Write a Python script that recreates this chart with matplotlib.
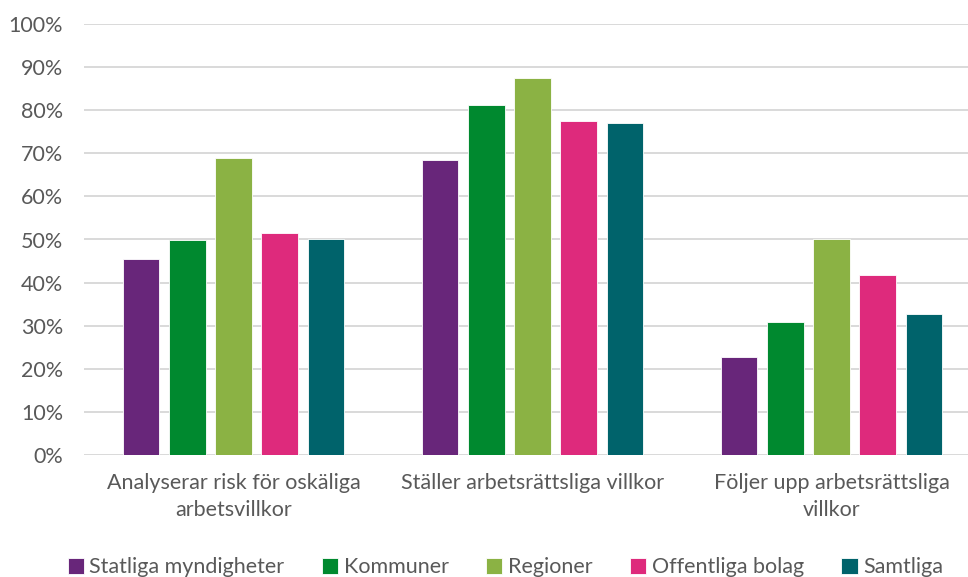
import numpy as np
import matplotlib.pyplot as plt
from matplotlib.ticker import PercentFormatter

plt.rcParams['font.family'] = ['Lato', 'DejaVu Sans']

# kategorier och serier
categories = ["Analyserar risk för oskäliga\narbetsvillkor",
              "Ställer arbetsrättsliga villkor",
              "Följer upp arbetsrättsliga\nvillkor"]
series = ["Statliga myndigheter", "Kommuner", "Regioner", "Offentliga bolag", "Samtliga"]
statliga = [45.4, 68.4, 22.7]
kommuner = [49.9, 81.2, 30.9]
regioner = [68.8, 87.5, 50.1]
bolag = [51.6, 77.5, 41.7]
samtliga = [50.0, 77.0, 32.6]
colors = ["#68267A", "#00892F", "#8BB244", "#DE2A7C", "#00636B"]

values = [statliga, kommuner, regioner, bolag, samtliga]

fig = plt.figure(figsize=(9.68, 5.77), dpi=100)
# plottytan går lite utanför bildens högerkant
ax = fig.add_axes([84 / 968, 1 - 455 / 577, (981 - 84) / 968, (455 - 24) / 577])

x = np.arange(len(categories))
step = 0.154
width = 0.121
for i, (name, vals) in enumerate(zip(series, values)):
    ax.bar(x + (i - 2) * step, vals, width, color=colors[i], label=name,
           edgecolor="white", linewidth=0.6, zorder=3)

ax.set_xlim(-0.5, 2.5)
ax.set_ylim(0, 100)
ax.set_yticks(np.arange(0, 101, 10))
ax.yaxis.set_major_formatter(PercentFormatter(decimals=0))
ax.grid(axis="y", color="#D9D9D9", linewidth=1.4, zorder=0)
for s in ax.spines.values():
    s.set_visible(False)
ax.tick_params(axis="both", length=0, labelsize=15.5, labelcolor="#595959")
ax.tick_params(axis="y", pad=15)
ax.tick_params(axis="x", pad=13)
ax.set_xticks(x)
ax.set_xticklabels(categories, linespacing=1.45)

leg = fig.legend(loc="lower center", bbox_to_anchor=(0.522, -0.034), ncol=5, frameon=False,
                 fontsize=15.5, handlelength=0.75, handleheight=0.75, handletextpad=0.25,
                 columnspacing=1.75)
for t in leg.get_texts():
    t.set_color("#595959")

fig.savefig("out.png", dpi=100)
